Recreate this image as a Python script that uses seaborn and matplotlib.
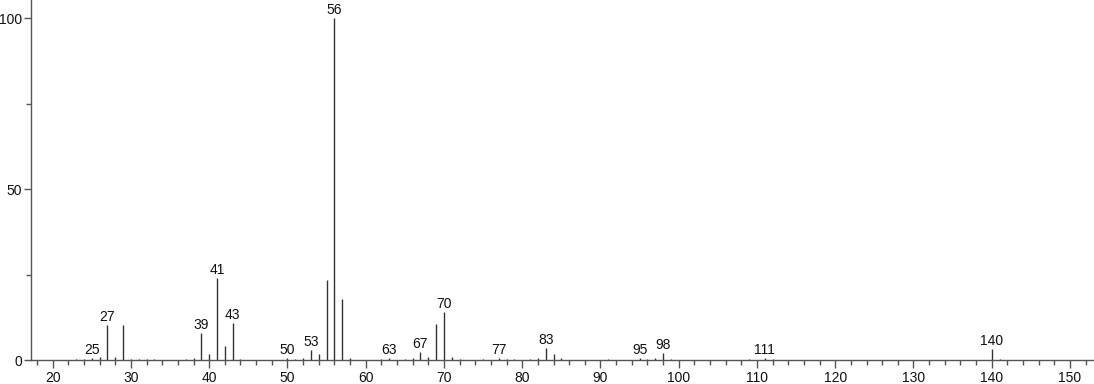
import matplotlib
matplotlib.use("Agg")
import matplotlib.pyplot as plt
import seaborn as sns
import pandas as pd
from matplotlib.ticker import MultipleLocator

mz = [23, 24, 25, 26, 27, 28, 29, 30, 31, 32, 33, 37, 38, 39, 40, 41, 42, 43, 44,
      50, 51, 52, 53, 54, 55, 56, 57, 58, 62, 63, 65, 66, 67, 68, 69, 70, 71, 72,
      75, 77, 78, 79, 81, 82, 83, 84, 85, 91, 95, 96, 97, 98, 99, 109, 111, 112,
      140, 141]
intensity = [0.4, 0.3, 0.6, 0.9, 10.2, 1.0, 10.1, 0.4, 0.3, 0.3, 0.3, 0.3, 0.6, 7.8, 1.7,
             23.9, 4.2, 10.8, 0.4, 0.5, 0.4, 0.6, 2.8, 1.8, 23.5, 100.0, 17.8, 0.6,
             0.3, 0.5, 0.4, 0.5, 2.3, 0.9, 10.5, 14.1, 0.8, 0.3, 0.3, 0.6, 0.4, 0.4,
             0.4, 0.5, 3.4, 1.8, 0.6, 0.3, 0.5, 0.4, 0.5, 2.0, 0.3, 0.4, 0.5, 0.4,
             3.1, 0.4]
labeled = [25, 27, 39, 41, 43, 50, 53, 56, 63, 67, 70, 77, 83, 95, 98, 111, 140]

sns.set_theme(style="white")
plt.rcParams['font.family'] = ['Liberation Sans', 'DejaVu Sans']

df = pd.DataFrame({"mz": mz, "intensity": intensity})

fig = plt.figure(figsize=(10.94, 3.84), dpi=100)
ax = fig.add_axes([31 / 1094, 24 / 384, 1063 / 1094, 360 / 384])

sns.barplot(data=df, x="mz", y="intensity", native_scale=True, width=0.0001,
            color="#333333", saturation=1, edgecolor="#333333", linewidth=1.0,
            ax=ax)
for p in ax.patches:
    p.set_snap(True)

lookup = dict(zip(mz, intensity))
for m in labeled:
    ax.text(m, lookup[m] + 1.2, str(m), ha="center", va="baseline",
            fontsize=10, color="#111111")

ax.set_xlim(17.23, 153.07)
ax.set_ylim(0, 105.3)
ax.xaxis.set_major_locator(MultipleLocator(10))
ax.xaxis.set_minor_locator(MultipleLocator(2))
ax.yaxis.set_major_locator(MultipleLocator(50))
ax.yaxis.set_minor_locator(MultipleLocator(25))
ax.set_xlabel("")
ax.set_ylabel("")

for s in ["top", "right"]:
    ax.spines[s].set_visible(False)
for s in ["left", "bottom"]:
    ax.spines[s].set_color("#555555")
    ax.spines[s].set_linewidth(1.0)

ax.tick_params(axis="x", which="major", direction="out", length=6, width=1,
               color="#555555", labelsize=10, labelcolor="#111111", pad=2)
ax.tick_params(axis="y", which="major", direction="out", length=5, width=1,
               color="#555555", labelsize=10, labelcolor="#111111", pad=1.5)
ax.tick_params(axis="both", which="minor", direction="out", length=3.5, width=1,
               color="#555555")
ax.tick_params(axis="x", which="both", bottom=True)
ax.tick_params(axis="y", which="both", left=True)
ax.grid(False)

fig.savefig("out.png", dpi=100)
